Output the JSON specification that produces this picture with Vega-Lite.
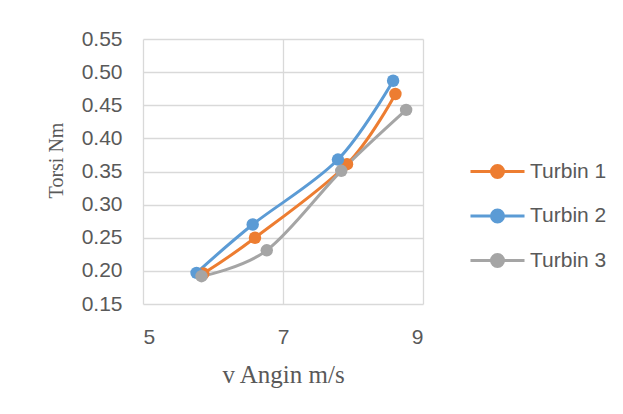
{
  "$schema": "https://vega.github.io/schema/vega-lite/v6.json",
  "width": 280,
  "height": 265,
  "autosize": {"type": "none"},
  "padding": {"left": 143, "top": 39, "right": 200, "bottom": 110},
  "background": "white",
  "config": {
    "font": "Liberation Sans",
    "view": {"stroke": null},
    "axis": {
      "labelColor": "#595959",
      "labelFontSize": 21,
      "gridColor": "#D9D9D9",
      "gridWidth": 1.3,
      "domain": false,
      "ticks": false,
      "titleFont": "Liberation Serif",
      "titleFontWeight": "normal",
      "titleColor": "#595959"
    }
  },
  "data": {
    "values": [
      {"v": 5.862, "torsi": 0.196, "turbin": "Turbin 1"},
      {"v": 6.600, "torsi": 0.250, "turbin": "Turbin 1"},
      {"v": 7.914, "torsi": 0.361, "turbin": "Turbin 1"},
      {"v": 8.606, "torsi": 0.467, "turbin": "Turbin 1"},
      {"v": 5.765, "torsi": 0.197, "turbin": "Turbin 2"},
      {"v": 6.567, "torsi": 0.270, "turbin": "Turbin 2"},
      {"v": 7.785, "torsi": 0.368, "turbin": "Turbin 2"},
      {"v": 8.573, "torsi": 0.487, "turbin": "Turbin 2"},
      {"v": 5.836, "torsi": 0.192, "turbin": "Turbin 3"},
      {"v": 6.768, "torsi": 0.231, "turbin": "Turbin 3"},
      {"v": 7.832, "torsi": 0.351, "turbin": "Turbin 3"},
      {"v": 8.759, "torsi": 0.443, "turbin": "Turbin 3"}
    ]
  },
  "mark": {
    "type": "line",
    "interpolate": "cardinal",
    "strokeWidth": 3,
    "point": {"filled": true, "size": 155, "opacity": 1}
  },
  "encoding": {
    "x": {
      "field": "v",
      "type": "quantitative",
      "scale": {"domain": [5, 9], "nice": false, "zero": false},
      "axis": {
        "values": [5, 7, 9],
        "labelPadding": 22,
        "title": "v Angin m/s",
        "titleFontSize": 25,
        "titleBaseline": "alphabetic",
        "titleY": 78,
        "titleX": 140
      }
    },
    "y": {
      "field": "torsi",
      "type": "quantitative",
      "scale": {"domain": [0.15, 0.55], "nice": false, "zero": false},
      "axis": {
        "values": [0.15, 0.2, 0.25, 0.3, 0.35, 0.4, 0.45, 0.5, 0.55],
        "format": ".2f",
        "labelPadding": 21,
        "title": "Torsi Nm",
        "titleFontSize": 20,
        "titleAngle": 270,
        "titleBaseline": "alphabetic",
        "titleX": -81,
        "titleY": 121
      }
    },
    "color": {
      "field": "turbin",
      "type": "nominal",
      "scale": {
        "domain": ["Turbin 1", "Turbin 2", "Turbin 3"],
        "range": ["#ED7D31", "#5B9BD5", "#A5A5A5"]
      },
      "legend": {
        "title": null,
        "orient": "none",
        "legendX": 342,
        "legendY": 120,
        "padding": 0,
        "symbolType": "M-2.5,0H2.5M0.556,0A0.556,0.556,0,1,1,-0.556,0A0.556,0.556,0,1,1,0.556,0Z",
        "symbolSize": 467,
        "symbolStrokeWidth": 3,
        "labelFontSize": 21,
        "labelColor": "#595959",
        "labelOffset": 20,
        "rowPadding": 19.5,
        "encode": {
          "symbols": {
            "update": {
              "fill": {"scale": "color", "field": "value"},
              "stroke": {"scale": "color", "field": "value"},
              "opacity": {"value": 1}
            }
          }
        }
      }
    }
  }
}
